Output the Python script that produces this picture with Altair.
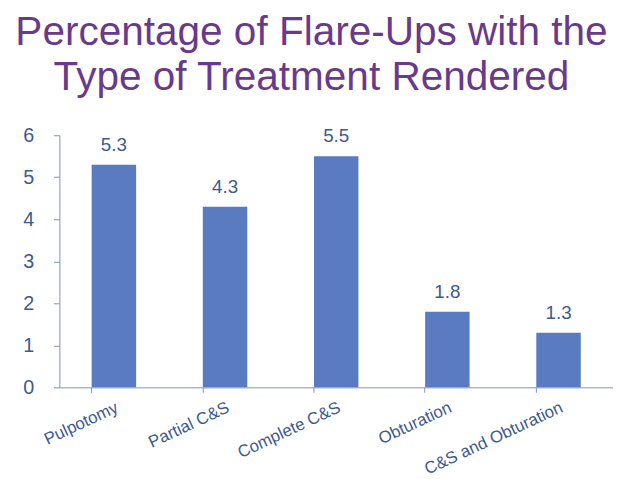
import altair as alt
import pandas as pd

categories = ["Pulpotomy", "Partial C&S", "Complete C&S", "Obturation", "C&S and Obturation"]
values = [5.3, 4.3, 5.5, 1.8, 1.3]
y_ticks = [0, 1, 2, 3, 4, 5, 6]

df = pd.DataFrame({"cat": categories, "val": values})

label_color = "#3d5a8f"
bar_color = "#5a7bbf"
axis_color = "#8592b8"

x = alt.X("cat:N", sort=categories, title=None,
          scale=alt.Scale(paddingInner=0.6, paddingOuter=0.29),
          axis=alt.Axis(labelAngle=-25, labelAlign="right", labelBaseline="top",
                        labelFontSize=17, labelColor=label_color, labelFont="Liberation Sans",
                        labelPadding=7, bandPosition=0, tickColor=axis_color,
                        domainColor=axis_color, tickSize=5, labelOffset=0))
y = alt.Y("val:Q", title=None,
          scale=alt.Scale(domain=[0, 6], nice=False),
          axis=alt.Axis(values=y_ticks, grid=False, labelFontSize=20, labelColor=label_color,
                        labelFont="Liberation Sans", tickColor=axis_color, domainColor=axis_color,
                        tickSize=6, labelPadding=20))

bars = alt.Chart(df).mark_bar(color=bar_color).encode(x=x, y=y)
text = alt.Chart(df).mark_text(dy=-10, baseline="bottom", fontSize=19, color=label_color,
                               font="Liberation Sans").encode(
    x=alt.X("cat:N", sort=categories), y="val:Q", text=alt.Text("val:Q", format=".1f"))

chart = (bars + text).properties(
    width=560, height=255,
    autosize=alt.AutoSizeParams(type="none"),
    padding={"left": 52, "top": 126, "right": 0, "bottom": 90},
    background="white",
    title=alt.TitleParams(text=["Percentage of Flare-Ups with the", "Type of Treatment Rendered"],
                          fontSize=41, lineHeight=45, color="#6a3a8a", font="Liberation Sans",
                          fontWeight="normal", dx=-25, offset=27),
).configure_view(stroke=None)

chart.save("out.html", embed_options={"renderer": "svg", "actions": False})
